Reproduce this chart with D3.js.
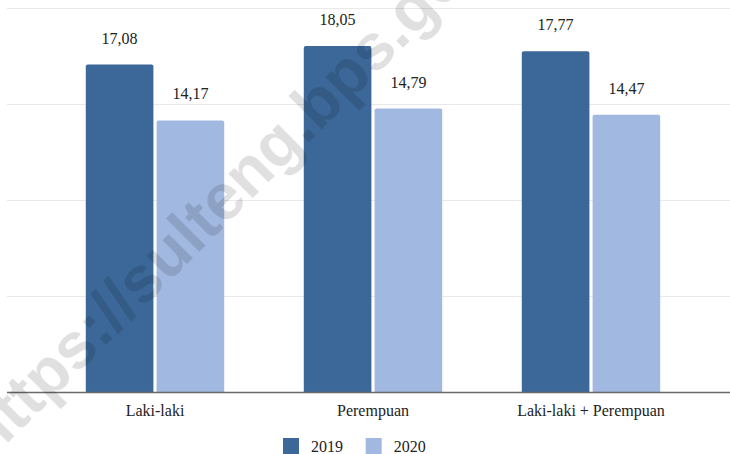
<!DOCTYPE html>
<html>
<head>
<meta charset="utf-8">
<script src="https://cdn.jsdelivr.net/npm/d3@7"></script>
<style>
  html, body { margin: 0; padding: 0; background: #fff; }
  svg { display: block; }
</style>
</head>
<body>
<svg id="chart" width="730" height="454"></svg>
<script>
// Categories and yearly values
const categories = ["Laki-laki", "Perempuan", "Laki-laki + Perempuan"];
const years = ["2019", "2020"];
const values2019 = [17.08, 18.05, 17.77];
const values2020 = [14.17, 14.79, 14.47];
const yTicks = [0, 5, 10, 15, 20];
const colors = ["#3b6898", "#a1b8e0"];
const watermark = "https://sulteng.bps.go.id";

const svg = d3.select("#chart");
const W = 730, H = 454;

const x0 = d3.scaleBand().domain(categories).range([46, 700])
  .paddingInner(0.365).paddingOuter(0.1825);
const x1 = d3.scaleBand().domain(years).range([0, x0.bandwidth()]).paddingInner(0.045);
const y = d3.scaleLinear().domain([0, 20]).range([392.5, 8.5]);
const color = d3.scaleOrdinal().domain(years).range(colors);

const rows = categories.map((c, i) => ({
  category: c,
  items: [
    { year: "2019", value: values2019[i] },
    { year: "2020", value: values2020[i] }
  ]
}));

// Horizontal gridlines
svg.append("g").selectAll("line")
  .data(yTicks.filter(t => t > 0))
  .join("line")
  .attr("x1", 7).attr("x2", W)
  .attr("y1", d => y(d)).attr("y2", d => y(d))
  .attr("stroke", "#e9e9e9").attr("stroke-width", 1.2);

// Bars with slightly rounded top corners
function barPath(x, yTop, w, yBase, r) {
  return `M${x},${yBase}V${yTop + r}Q${x},${yTop} ${x + r},${yTop}H${x + w - r}Q${x + w},${yTop} ${x + w},${yTop + r}V${yBase}Z`;
}

const groups = svg.append("g").selectAll("g")
  .data(rows)
  .join("g")
  .attr("transform", d => `translate(${x0(d.category)},0)`);

groups.selectAll("path")
  .data(d => d.items)
  .join("path")
  .attr("d", d => barPath(x1(d.year), y(d.value), x1.bandwidth(), y(0), 2))
  .attr("fill", d => color(d.year));

groups.selectAll("text.val")
  .data(d => d.items)
  .join("text")
  .attr("class", "val")
  .attr("x", d => x1(d.year) + x1.bandwidth() / 2)
  .attr("y", d => y(d.value) - 21)
  .attr("text-anchor", "middle")
  .attr("font-family", "'Liberation Serif', 'Times New Roman', serif")
  .attr("font-size", 16)
  .attr("fill", "#222")
  .text(d => d3.format(".2f")(d.value).replace(".", ","));

// Baseline axis
svg.append("line")
  .attr("x1", 7).attr("x2", W)
  .attr("y1", y(0)).attr("y2", y(0))
  .attr("stroke", "#6a6a6a").attr("stroke-width", 1.6);

// Category labels
const xAxis = d3.axisBottom(x0).tickSize(0).tickPadding(0);
const gx = svg.append("g").attr("transform", `translate(0,${y(0)})`).call(xAxis);
gx.select(".domain").remove();
gx.selectAll("text")
  .attr("y", 23)
  .attr("dy", 0)
  .attr("font-family", "'Liberation Serif', 'Times New Roman', serif")
  .attr("font-size", 16)
  .attr("fill", "#222");

// Legend
const legend = svg.append("g").selectAll("g")
  .data(years)
  .join("g")
  .attr("transform", (d, i) => `translate(${283 + i * 82.7},438)`);
legend.append("rect")
  .attr("width", 16).attr("height", 16)
  .attr("fill", d => color(d));
legend.append("text")
  .attr("x", 28).attr("y", 14)
  .attr("font-family", "'Liberation Serif', 'Times New Roman', serif")
  .attr("font-size", 16)
  .attr("fill", "#222");
legend.select("text").text(d => d);

// Diagonal site watermark: sized and placed so the "u" of "sulteng"
// and the "g" of "bps.g" fall on two chosen points.
const wm = svg.append("text")
  .attr("font-family", "'Liberation Sans', Arial, sans-serif")
  .attr("font-weight", "bold")
  .attr("fill", "#000")
  .attr("fill-opacity", 0.12)
  .text(watermark);

const pU = [170, 257], pG = [415, 12];
const iU = watermark.indexOf("u");
const iG = watermark.indexOf("g", watermark.indexOf("bps"));

function charMid(node, i, fs) {
  const a = node.getStartPositionOfChar(i), b = node.getEndPositionOfChar(i);
  return [(a.x + b.x) / 2, -0.26 * fs];
}

let fs = 66;
wm.attr("font-size", fs);
let n = wm.node();
let dU = charMid(n, iU, fs), dG = charMid(n, iG, fs);
const target = Math.hypot(pG[0] - pU[0], pG[1] - pU[1]);
fs = fs * target / (dG[0] - dU[0]);
wm.attr("font-size", fs);
dU = charMid(n, iU, fs);
const ang = Math.atan2(pG[1] - pU[1], pG[0] - pU[0]);
const c = Math.cos(ang), s = Math.sin(ang);
const tx = pU[0] - (dU[0] * c - dU[1] * s);
const ty = pU[1] - (dU[0] * s + dU[1] * c);
wm.attr("transform", `translate(${tx},${ty}) rotate(${ang * 180 / Math.PI})`);
</script>
</body>
</html>
